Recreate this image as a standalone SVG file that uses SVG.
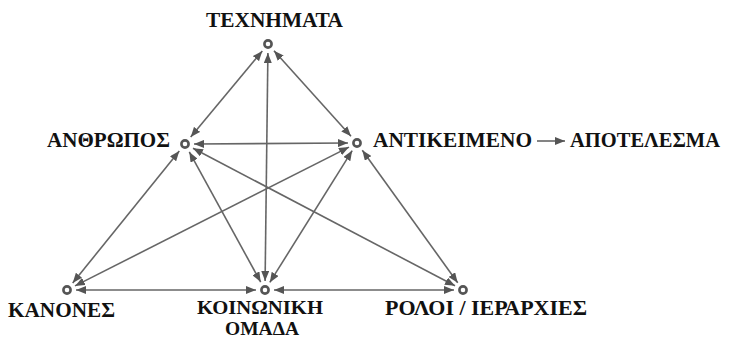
<svg xmlns="http://www.w3.org/2000/svg" width="729" height="340" viewBox="0 0 729 340">
<style>
.lbl{font-family:"Liberation Serif","DejaVu Serif",serif;font-weight:bold;font-size:20px;fill:#111}
.sm{font-size:19px}
.nd{fill:#fff;stroke:#555;stroke-width:2.6}
.cn{stroke:#666;stroke-width:1.6;fill:none;marker-start:url(#ah);marker-end:url(#ah)}
.one{stroke:#666;stroke-width:1.6;fill:none;marker-end:url(#ah)}
</style>
<defs>
<marker id="ah" markerUnits="userSpaceOnUse" markerWidth="10" markerHeight="8" refX="10" refY="4" orient="auto-start-reverse">
<path d="M0,0 L10,4 L0,8 z" fill="#555"/>
</marker>
</defs>
<rect width="729" height="340" fill="#fff"/>
<g id="connectors">
<line class="cn" x1="262.3" y1="50.9" x2="190.7" y2="137.1"/>
<line class="cn" x1="274" y1="50.7" x2="351" y2="136.3"/>
<line class="cn" x1="267.9" y1="53" x2="265.1" y2="281"/>
<line class="cn" x1="194" y1="144" x2="348" y2="143"/>
<line class="cn" x1="179.3" y1="151" x2="72.7" y2="283"/>
<line class="cn" x1="189.3" y1="151.9" x2="260.7" y2="282.1"/>
<line class="cn" x1="193" y1="148.2" x2="455" y2="285.8"/>
<line class="cn" x1="349" y1="147.1" x2="75" y2="285.9"/>
<line class="cn" x1="352.2" y1="150.6" x2="269.8" y2="282.4"/>
<line class="cn" x1="362.3" y1="150.3" x2="457.7" y2="282.7"/>
<line class="cn" x1="76" y1="290" x2="256" y2="290"/>
<line class="cn" x1="274" y1="290" x2="454" y2="290"/>
<line class="one" x1="537" y1="141" x2="565" y2="141"/>
</g>
<g id="technimata"><circle class="nd" cx="268" cy="44" r="3.6"/><text class="lbl" x="206" y="27" textLength="137" lengthAdjust="spacingAndGlyphs">ΤΕΧΝΗΜΑΤΑ</text></g>
<g id="anthropos"><circle class="nd" cx="185" cy="144" r="3.6"/><text class="lbl" x="47" y="147" textLength="123" lengthAdjust="spacingAndGlyphs">ΑΝΘΡΩΠΟΣ</text></g>
<g id="antikeimeno"><circle class="nd" cx="357" cy="143" r="3.6"/><text class="lbl" x="373" y="147" textLength="159" lengthAdjust="spacingAndGlyphs">ΑΝΤΙΚΕΙΜΕΝΟ</text></g>
<g id="apotelesma"><text class="lbl" x="570" y="147" textLength="150" lengthAdjust="spacingAndGlyphs">ΑΠΟΤΕΛΕΣΜΑ</text></g>
<g id="kanones"><circle class="nd" cx="67" cy="290" r="3.6"/><text class="lbl" x="8" y="317" textLength="107" lengthAdjust="spacingAndGlyphs">ΚΑΝΟΝΕΣ</text></g>
<g id="koinoniki-omada"><circle class="nd" cx="265" cy="290" r="3.6"/><text class="lbl sm" x="197" y="314" textLength="126" lengthAdjust="spacingAndGlyphs">ΚΟΙΝΩΝΙΚΗ</text><text class="lbl sm" x="225" y="335" textLength="74" lengthAdjust="spacingAndGlyphs">ΟΜΑΔΑ</text></g>
<g id="roloi"><circle class="nd" cx="463" cy="290" r="3.6"/><text class="lbl" x="385" y="315" textLength="202" lengthAdjust="spacingAndGlyphs">ΡΟΛΟΙ / ΙΕΡΑΡΧΙΕΣ</text></g>
</svg>
